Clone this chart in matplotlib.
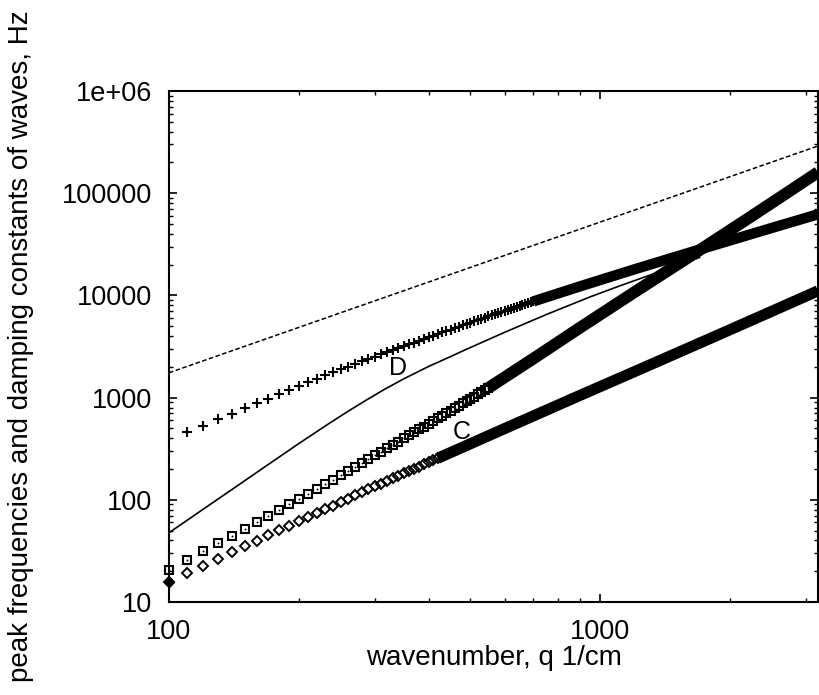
import matplotlib
matplotlib.use('Agg')
import matplotlib.pyplot as plt
import matplotlib.ticker as mticker

plt.rcParams['font.family'] = ['Liberation Sans', 'DejaVu Sans']

# D branch (pluses), q = 110..700 step 10
q_plus = list(range(110, 710, 10))
f_plus = [457, 532, 612, 697, 786, 880, 978, 1081, 1188, 1300,
          1412, 1528, 1647, 1770, 1893, 2012, 2134, 2258, 2384, 2512,
          2642, 2773, 2907, 3043, 3181, 3320, 3460, 3603, 3747, 3892,
          4040, 4187, 4337, 4487, 4638, 4791, 4946, 5101, 5258, 5416,
          5574, 5734, 5894, 6056, 6218, 6382, 6546, 6711, 6876, 7042,
          7209, 7377, 7544, 7713, 7882, 8052, 8222, 8393, 8564, 8737]
# dense part of D branch
q_plus_hi = [700, 900, 1200, 1600, 2000, 2500, 3200]
f_plus_hi = [8737, 12300, 17980, 26000, 34500, 45700, 62200]

# squares, q = 100..550 step 10
q_box = list(range(100, 560, 10))
f_box = [20.6, 25.6, 31.2, 37.5, 44.5, 52.2, 60.6, 69.7, 79.6, 90.3,
         101.8, 114.1, 127.3, 141.3, 157, 173.5, 191.0, 209.6, 229.2, 249.9,
         271.7, 294.6, 318.6, 344.0, 370.5, 398.0, 426.9, 457.1, 488.5, 521.2,
         555.3, 590.7, 627.6, 665.7, 705.3, 746.3, 788.9, 832.9, 878.5, 925.5,
         973.9, 1024, 1076, 1129, 1184, 1241]
q_box_hi = [550, 700, 900, 1200, 1650, 2200, 2600, 3200]
f_box_hi = [1241, 2409, 4866, 10740, 25540, 56370, 89740, 160400]

# C branch (diamonds), q = 100..420 step 10
q_dia = list(range(100, 430, 10))
f_dia = [15.8, 19.09, 22.66, 26.54, 30.71, 35.17, 39.93, 44.96, 50.28, 55.86,
         61.72, 67.88, 74.30, 80.97, 87.93, 95.13, 102.6, 110.3, 118.3, 126.5,
         135.0, 143.7, 152.7, 161.9, 171.3, 181.0, 190.9, 201.1, 211.4, 222.0,
         232.8, 243.8, 255.0]
q_dia_hi = [420, 600, 900, 1300, 1800, 2500, 3200]
f_dia_hi = [255, 497, 1056, 2077, 3793, 6990, 11090]

# thin solid curve
q_sol = [100, 120, 141, 170, 200, 236, 260, 287, 315, 350, 400, 448, 481,
         600, 750, 948, 1100, 1310, 1500, 1700]
f_sol = [47.6, 80.8, 128.9, 221.8, 355, 564, 733, 947, 1195, 1523, 2017,
         2500, 2872, 4348, 6497, 9675, 12220, 15890, 19470, 23490]

# dashed straight line
q_dash = [100, 3200]
f_dash = [1750, 290000]

yticks = [10, 100, 1000, 10000, 100000, 1000000]
ylabels = ['10', '100', '1000', '10000', '100000', '1e+06']

fig = plt.figure(figsize=(8.2, 6.95), dpi=100)
ax = fig.add_axes([169/820, 1-602/695, (818-169)/820, (602-91)/695])
ax.set_xscale('log')
ax.set_yscale('log')

ax.plot(q_dash, f_dash, color='k', lw=1.1, dashes=(3, 1.6))
ax.plot(q_sol, f_sol, color='k', lw=1.2)

ax.plot(q_plus, f_plus, 'k+', ms=7, mew=1.5, clip_on=False)
ax.plot(q_plus_hi, f_plus_hi, color='k', lw=7.5, solid_capstyle='butt')

ax.plot(q_box, f_box, 'ks', ms=6.3, mew=1.5, mfc='none', clip_on=False)
ax.plot(q_box, f_box, 'ko', ms=1.4, mew=0, clip_on=False)
ax.plot(q_box_hi, f_box_hi, color='k', lw=8.5, solid_capstyle='butt')

ax.plot(q_dia, f_dia, 'kD', ms=4.8, mew=1.4, mfc='none', clip_on=False)
ax.plot(q_dia[0], f_dia[0], 'kD', ms=5.2, clip_on=False)
ax.plot(q_dia_hi, f_dia_hi, color='k', lw=8, solid_capstyle='butt')

ax.text(339, 1950, 'D', fontsize=18, ha='center', va='center')
ax.text(477, 460, 'C', fontsize=18, ha='center', va='center')

ax.set_xlim(100, 3200)
ax.set_ylim(10, 1e6)
ax.xaxis.set_major_locator(mticker.FixedLocator([100, 1000]))
ax.xaxis.set_major_formatter(mticker.FixedFormatter(['100', '1000']))
ax.xaxis.set_minor_locator(mticker.LogLocator(base=10, subs=range(2, 10), numticks=20))
ax.xaxis.set_minor_formatter(mticker.NullFormatter())
ax.yaxis.set_major_locator(mticker.FixedLocator(yticks))
ax.yaxis.set_major_formatter(mticker.FixedFormatter(ylabels))
ax.yaxis.set_minor_locator(mticker.LogLocator(base=10, subs=range(2, 10), numticks=20))
ax.yaxis.set_minor_formatter(mticker.NullFormatter())

ax.tick_params(which='both', direction='in', top=True, right=True, labelsize=19.5, pad=12)
ax.tick_params(which='major', length=6, width=1.2)
ax.tick_params(which='minor', length=3, width=1)
for s in ax.spines.values():
    s.set_linewidth(1.5)

ax.set_xlabel('wavenumber, q 1/cm', fontsize=20, labelpad=0)
ax.set_ylabel('peak frequencies and damping constants of waves, Hz', fontsize=20, labelpad=20)

fig.savefig('out.png', dpi=100)
